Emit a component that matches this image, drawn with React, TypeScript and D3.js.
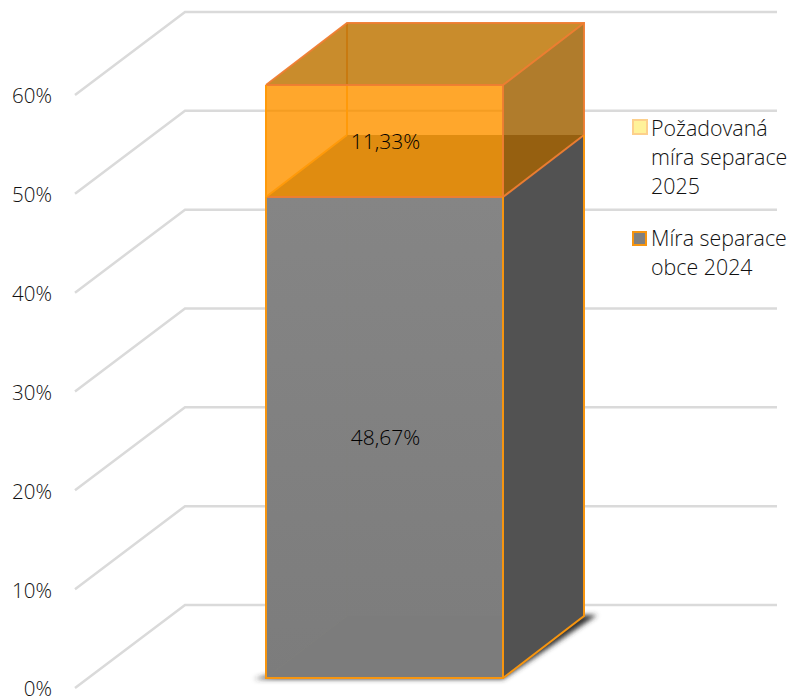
import React from "react";
import * as d3 from "d3";

const ticks = [0, 10, 20, 30, 40, 50, 60];
const tickLabels = ["0%", "10%", "20%", "30%", "40%", "50%", "60%"];
const actual = 48.67;
const required = 11.33;
const actualLabel = "48,67%";
const requiredLabel = "11,33%";
const legendRequired = ["Požadovaná", "míra separace", "2025"];
const legendActual = ["Míra separace", "obce 2024"];

const FONT = "'Open Sans', sans-serif";
const dxWall = 110, dyWall = 83;
const barDx = 81, barDy = 62;
const h = d3.scaleLinear().domain([0, 60]).range([0, 593]);
const wallY = d3.scaleLinear().domain([0, 60]).range([605, 12]);
const barY = d3.scaleLinear().domain([0, 60]).range([678, 85]);
const labelY = d3.scaleLinear().domain([0, 60]).range([689, 96]);
const x0 = 266, x1 = 503;

const poly = (p: [number, number][]) => (d3.line()(p) as string) + "Z";

export default function App() {
  const yBase = barY(0);
  const yMid = barY(actual);
  const yTop = barY(actual + required);
  const bx0 = x0 + barDx, bx1 = x1 + barDx;
  const orange = "#ff9a0a";
  const orangeEdge = "#ee7d31";
  return (
    <svg width={791} height={698} style={{ position: "absolute", left: 0, top: 0 }}>
      <defs>
        <linearGradient id="greyFront" x1="0" y1="0" x2="0" y2="1">
          <stop offset="0" stopColor="#858585" />
          <stop offset="1" stopColor="#7c7c7c" />
        </linearGradient>
        <filter id="soft" x="-20%" y="-20%" width="140%" height="140%">
          <feGaussianBlur stdDeviation="2.5" />
        </filter>
      </defs>
      {ticks.map((t, i) => {
        const y = wallY(t);
        return (
          <g key={t}>
            <path d={`M${185 - dxWall},${y + dyWall}L185,${y}L777,${y}`} fill="none" stroke="#dadada" strokeWidth={2.5} />
            <text x={52} y={labelY(t)} dy="0.36em" textAnchor="end" fontFamily={FONT} fontWeight={300} fontSize={20.5} fill="#111">
              {tickLabels[i]}
            </text>
          </g>
        );
      })}

      {/* shadow */}
      <path d={poly([[254, yBase + 1], [x1, yBase + 1], [bx1 + 13, yBase - barDy - 1], [bx1, yBase - barDy - 1], [x0, yBase - 2]])} fill="#333" filter="url(#soft)" />

      {/* grey box */}
      <path d={poly([[x1, yMid], [bx1, yMid - barDy], [bx1, yBase - barDy], [x1, yBase]])} fill="#525252" />
      <rect x={x0} y={yMid} width={x1 - x0} height={yBase - yMid} fill="url(#greyFront)" />
      <path d={poly([[x0, yBase], [bx0, yBase - barDy], [x1, yBase - barDy], [x1, yBase]])} fill="#7c7c7c" />
      <path d={`M${x0},${yBase}L${bx0},${yBase - barDy}L${bx0},${yMid}`} fill="none" stroke="#8a8a80" strokeOpacity={0.15} strokeWidth={1} />

      {/* orange box: back, top, side */}
      <path d={poly([[x0, yTop], [bx0, yTop - barDy], [bx1, yTop - barDy], [x1, yTop]])} fill="#c98c2c" />
      <rect x={bx0} y={yTop - barDy} width={x1 - x0} height={h(required)} fill="#c98c2c" />
      <path d={poly([[x1, yTop], [bx1, yTop - barDy], [bx1, yMid - barDy], [x1, yMid]])} fill="#b07c2c" />
      <path d={poly([[x1, yMid - barDy], [bx1, yMid - barDy], [x1, yMid]])} fill="#966010" />
      <rect x={x0} y={yTop} width={x1 - x0} height={h(required)} fill="#ffa72c" />
      <path d={poly([[x0, yMid], [bx0, yMid - barDy], [x1, yMid - barDy], [x1, yMid]])} fill="#e08c10" />
      <line x1={x0} x2={x1} y1={wallY(50)} y2={wallY(50)} stroke="#e08c10" strokeOpacity={0.35} strokeWidth={2} />
      <line x1={bx0} x2={bx0} y1={yTop - barDy} y2={yTop} stroke="#c87a10" strokeWidth={2} />
      <line x1={bx0} x2={bx0} y1={yTop} y2={yMid - barDy} stroke={orange} strokeWidth={2} />

      {/* edges */}
      <g fill="none" stroke={orangeEdge} strokeWidth={2} strokeOpacity={0.95}>
        <path d={`M${x0},${yTop}L${bx0},${yTop - barDy}L${bx1},${yTop - barDy}L${bx1},${yMid - barDy}`} />
        <path d={`M${x0},${yTop}L${x1},${yTop}L${bx1},${yTop - barDy}`} />
        <path d={`M${x1},${yTop}L${x1},${yMid}L${bx1},${yMid - barDy}`} />
        <path d={`M${x0},${yMid}L${x1},${yMid}`} />
      </g>
      <path d={`M${x0},${yTop}L${x0},${yMid}L${bx0},${yMid - barDy}`} fill="none" stroke={orange} strokeWidth={2} />
      <g fill="none" stroke="#f7950f" strokeWidth={2}>
        <path d={`M${x0},${yMid}L${x0},${yBase}L${x1},${yBase}L${x1},${yMid}`} />
        <path d={`M${x1},${yBase}L${bx1},${yBase - barDy}L${bx1},${yMid - barDy}`} />
      </g>

      {/* data labels */}
      <text x={385.5} y={437} dy="0.36em" textAnchor="middle" fontFamily={FONT} fontWeight={300} fontSize={21} fill="#000">{actualLabel}</text>
      <text x={385.5} y={141} dy="0.36em" textAnchor="middle" fontFamily={FONT} fontWeight={300} fontSize={21} fill="#000">{requiredLabel}</text>

      {/* legend */}
      <rect x={633} y={120} width={14} height={14} fill="#fff29a" stroke="#fdd08c" strokeWidth={2} />
      {legendRequired.map((s, i) => (
        <text key={s} x={651} y={128 + i * 29} dy="0.36em" fontFamily={FONT} fontWeight={300} fontSize={21.4} fill="#111">{s}</text>
      ))}
      <rect x={633} y={232} width={13} height={13} fill="#808080" stroke="#f7950f" strokeWidth={2} />
      {legendActual.map((s, i) => (
        <text key={s} x={651} y={238 + i * 29.5} dy="0.36em" fontFamily={FONT} fontWeight={300} fontSize={21.4} fill="#111">{s}</text>
      ))}
    </svg>
  );
}
